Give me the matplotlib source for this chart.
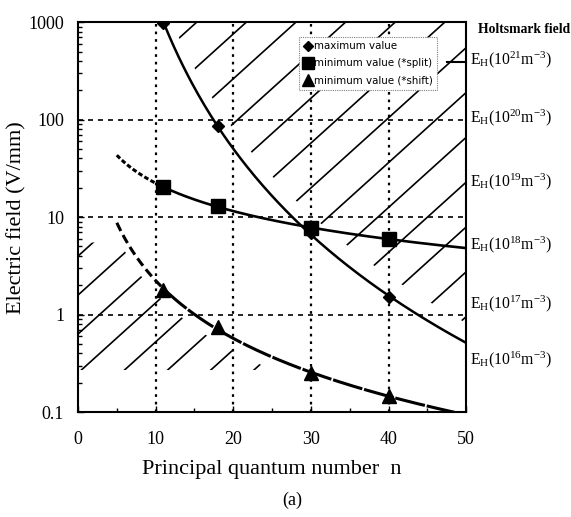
import numpy as np
import matplotlib
matplotlib.use("Agg")
import matplotlib.pyplot as plt
from matplotlib.patches import Polygon
from matplotlib.ticker import FuncFormatter, MultipleLocator, LogLocator

plt.rcParams['font.family'] = 'Liberation Serif'
plt.rcParams['mathtext.fontset'] = 'custom'
plt.rcParams['mathtext.rm'] = 'Liberation Serif'
plt.rcParams['mathtext.default'] = 'regular'

''' Data read off the picture '''
n_pts = [11, 18, 30, 40]
e_max = [980, 87, 6.9, 1.5]        # maximum value
e_split = [20.3, 12.9, 7.7, 6.0]   # minimum value (*split)
e_shift = [1.8, 0.74, 0.25, 0.145] # minimum value (*shift)

holts_exp = [21, 20, 19, 18, 17, 16]
xticks = [0, 10, 20, 30, 40, 50]
yticks = [0.1, 1, 10, 100, 1000]


def power_trend(x, y, xs):
    # power-law trendline like the spreadsheet one
    b, a = np.polyfit(np.log(x), np.log(y), 1)
    return np.exp(a) * xs ** b


fig = plt.figure(figsize=(5.71, 5.17), dpi=100)
ax = fig.add_axes([0.1366, 0.203, 0.68, 0.754])
ax.set_yscale('log')
ax.set_xlim(0, 50)
ax.set_ylim(0.1, 1000)

# grid
for v in xticks[1:-1]:
    ax.axvline(v, color='black', lw=1.6, ls=(0, (1.2, 2.2)), zorder=1)
for v in yticks[1:-1]:
    ax.axhline(v, color='black', lw=1.2, ls=(0, (3, 3)), zorder=1)

# trend curves
n_max = np.linspace(10.5, 50, 200)
c_max = power_trend(n_pts, e_max, n_max)
ax.plot(n_max, c_max, color='black', lw=1.8, zorder=3)

n_back = np.linspace(5, 11, 50)
n_fwd = np.linspace(11, 50, 200)
ax.plot(n_back, power_trend(n_pts, e_split, n_back), color='black', lw=2.2,
        ls=(0, (1.5, 0.8)), zorder=3)
ax.plot(n_fwd, power_trend(n_pts, e_split, n_fwd), color='black', lw=1.9, zorder=3)

n_fwd2 = np.linspace(11, 48.5, 200)
ax.plot(n_back, power_trend(n_pts, e_shift, n_back), color='black', lw=2.2,
        ls=(0, (3, 1.5)), zorder=3)
ax.plot(n_fwd2, power_trend(n_pts, e_shift, n_fwd2), color='black', lw=2.2,
        ls=(0, (10, 0.6)), zorder=3)

# markers
ax.plot(n_pts, e_max, 'D', color='black', ms=6.5, ls='none', zorder=4,
        label='maximum value')
ax.plot(n_pts, e_split, 's', color='black', ms=10, ls='none', zorder=4,
        label='minimum value (*split)')
ax.plot(n_pts, e_shift, '^', color='black', ms=10, ls='none', zorder=4,
        label='minimum value (*shift)')

# hatched regions
up_x = np.linspace(12, 50, 60)
up_verts = [(x, y) for x, y in zip(up_x, power_trend(n_pts, e_max, up_x) * 1.6)]
up_verts += [(50, 1000), (12, 1000)]
up_poly = Polygon(up_verts, closed=True, transform=ax.transData)

lo_x = np.linspace(5.5, 27, 60)
lo_verts = [(-1, 0.27), (-1, 5.5), (5.5, 5.5)]
lo_verts += [(x, y) for x, y in zip(lo_x, power_trend(n_pts, e_shift, lo_x) / 1.35)]
lo_verts += [(27, 0.27)]
lo_poly = Polygon(lo_verts, closed=True, transform=ax.transData)

slope = 0.9
for poly, step in [(up_poly, 0.115), (lo_poly, 0.10)]:
    for c in np.arange(-1.0, 1.2, step):
        ln, = ax.plot([0, 1], [c, c + slope], transform=ax.transAxes,
                      color='black', lw=1.2, zorder=2)
        ln.set_clip_path(poly)

# axes styling
for s in ax.spines.values():
    s.set_linewidth(1.5)
ax.set_xticks(xticks)
ax.xaxis.set_minor_locator(MultipleLocator(5))
ax.yaxis.set_major_locator(LogLocator(base=10, numticks=10))
ax.yaxis.set_major_formatter(FuncFormatter(lambda v, p: '%g' % v))
ax.tick_params(which='both', direction='in', labelsize=13, length=4, width=1)
ax.tick_params(which='minor', length=3)
ax.tick_params(axis='x', pad=14)
ax.tick_params(axis='y', pad=10)

ax.set_xlabel('Principal quantum number  n', fontsize=16, labelpad=8)
ax.set_ylabel('Electric field (V/mm)', fontsize=16, labelpad=1)

leg = ax.legend(loc='upper left', bbox_to_anchor=(0.555, 0.975),
                prop={'family': 'DejaVu Sans', 'size': 7.4}, markerscale=0.8,
                handletextpad=0.0, handlelength=1.1, borderpad=0.4,
                labelspacing=0.7, fancybox=False, framealpha=1)
leg.get_frame().set_edgecolor('gray')
leg.get_frame().set_linestyle((0, (1, 1)))
leg.get_frame().set_linewidth(0.8)

# Holtsmark field labels
ax.text(1.031, 0.982, 'Holtsmark field', transform=ax.transAxes, fontsize=9.8,
        fontweight='bold', va='center', ha='left')
label_y = [0.903, 0.756, 0.590, 0.428, 0.279, 0.133]
for e, yy in zip(holts_exp, label_y):
    ax.text(1.01, yy, r'E$_H$(10$^{%d}$m$^{-3}$)' % e, transform=ax.transAxes,
            fontsize=11.3, va='center', ha='left')
ax.plot([0.951, 1.0], [0.897, 0.897], transform=ax.transAxes, color='black',
        lw=1.5, clip_on=False)

fig.text(0.512, 0.032, '(a)', fontsize=13, ha='center', va='center')

fig.savefig('out.png', dpi=100)
